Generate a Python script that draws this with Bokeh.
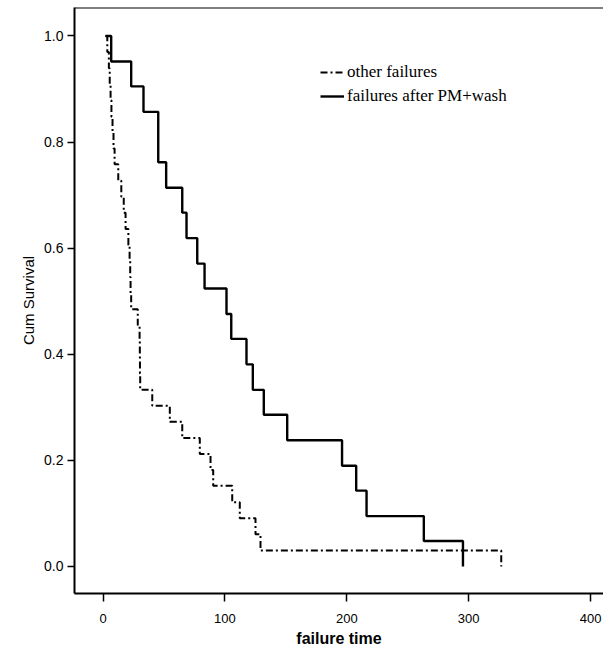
from bokeh.plotting import figure
from bokeh.models import Range1d, FixedTicker, Span, Legend, LegendItem, PrintfTickFormatter
from bokeh.embed import file_html
from bokeh.resources import INLINE

# Kaplan-Meier curve: failures after PM+wash (solid)
pm_times = [2, 6.7, 23.1, 33.2, 45.3, 51.8, 65.0, 68.5, 77.3, 83.3, 101.3, 105.2,
            117.7, 122.9, 131.9, 151.1, 196.1, 207.7, 216.2, 263.2, 295.3]
pm_surv = [1.0, 0.952, 0.905, 0.857, 0.762, 0.714, 0.667, 0.619, 0.571, 0.524, 0.476,
           0.429, 0.381, 0.333, 0.286, 0.238, 0.190, 0.143, 0.095, 0.048, 0.0]

# Kaplan-Meier curve: other failures (dash-dot)
oth_times = [2, 3.5, 4.8, 5.5, 6.2, 6.9, 7.8, 8.6, 9.5, 12.5, 15, 17, 18.5, 20.8, 21.8,
             22.3, 22.6, 23.1, 28.5, 30, 30.2, 30.3, 30.5, 40.4, 54.8, 65, 79.4, 88.2,
             90.4, 106, 112.2, 125.1, 129.2, 326.7]
oth_surv = [1.0, 0.970, 0.939, 0.909, 0.879, 0.848, 0.818, 0.788, 0.758, 0.727, 0.697,
            0.667, 0.636, 0.606, 0.576, 0.545, 0.515, 0.485, 0.455, 0.424, 0.394, 0.364,
            0.333, 0.303, 0.273, 0.242, 0.212, 0.182, 0.152, 0.121, 0.091, 0.061, 0.030, 0.0]

x_ticks = [0, 100, 200, 300, 400]
y_ticks = [0.0, 0.2, 0.4, 0.6, 0.8, 1.0]
labels = ["other failures", "failures after PM+wash"]

Y_TOP = 1.0537
p = figure(width=603, height=651, output_backend="svg", toolbar_location=None,
           x_range=Range1d(-23.4, 410.6), y_range=Range1d(-0.0509, Y_TOP),
           min_border_left=74, min_border_right=0, min_border_top=7, min_border_bottom=58)
p.outline_line_color = None
p.xgrid.visible = False
p.ygrid.visible = False

r_oth = p.step(oth_times, oth_surv, mode="after", line_color="black", line_width=2,
               line_dash="7 3 2 3")
r_pm = p.step(pm_times, pm_surv, mode="after", line_color="black", line_width=2.4)

p.add_layout(Span(location=Y_TOP, dimension="width", line_color="black", line_width=2))

tick_font = "Liberation Sans"
for ax in (p.xaxis[0], p.yaxis[0]):
    ax.axis_line_width = 2
    ax.axis_line_color = "black"
    ax.major_tick_line_color = "black"
    ax.major_tick_line_width = 1.5
    ax.minor_tick_line_color = None
    ax.major_tick_in = 0
    ax.major_label_text_font = tick_font
    ax.major_label_text_color = "black"
    ax.axis_label_text_font = "Liberation Sans"
    ax.axis_label_text_color = "black"

p.xaxis.ticker = FixedTicker(ticks=x_ticks)
p.xaxis.major_tick_out = 8
p.xaxis.major_label_standoff = 12
p.xaxis.major_label_text_font_size = "13px"
p.xaxis.axis_label = "failure time"
p.xaxis.axis_label_text_font_size = "16px"
p.xaxis.axis_label_text_font_style = "bold"
p.xaxis.axis_label_standoff = 4

p.yaxis.ticker = FixedTicker(ticks=y_ticks)
p.yaxis.formatter = PrintfTickFormatter(format="%.1f")
p.yaxis.major_tick_out = 7
p.yaxis.major_label_standoff = 4
p.yaxis.major_label_text_font_size = "14px"
p.yaxis.axis_label = "Cum Survival"
p.yaxis.axis_label_text_font_size = "15px"
p.yaxis.axis_label_text_font_style = "normal"
p.yaxis.axis_label_standoff = 4

legend = Legend(items=[LegendItem(label=labels[0], renderers=[r_oth]),
                       LegendItem(label=labels[1], renderers=[r_pm])],
                location=(246, 487), orientation="vertical")
legend.border_line_color = None
legend.background_fill_alpha = 0
legend.padding = 0
legend.margin = 0
legend.spacing = 4
legend.glyph_width = 24
legend.glyph_height = 20
legend.label_height = 20
legend.label_standoff = 3
legend.label_text_font = "Liberation Serif"
legend.label_text_font_size = "17px"
legend.label_text_color = "black"
p.add_layout(legend)

open("out.html", "w").write(file_html(p, INLINE))
